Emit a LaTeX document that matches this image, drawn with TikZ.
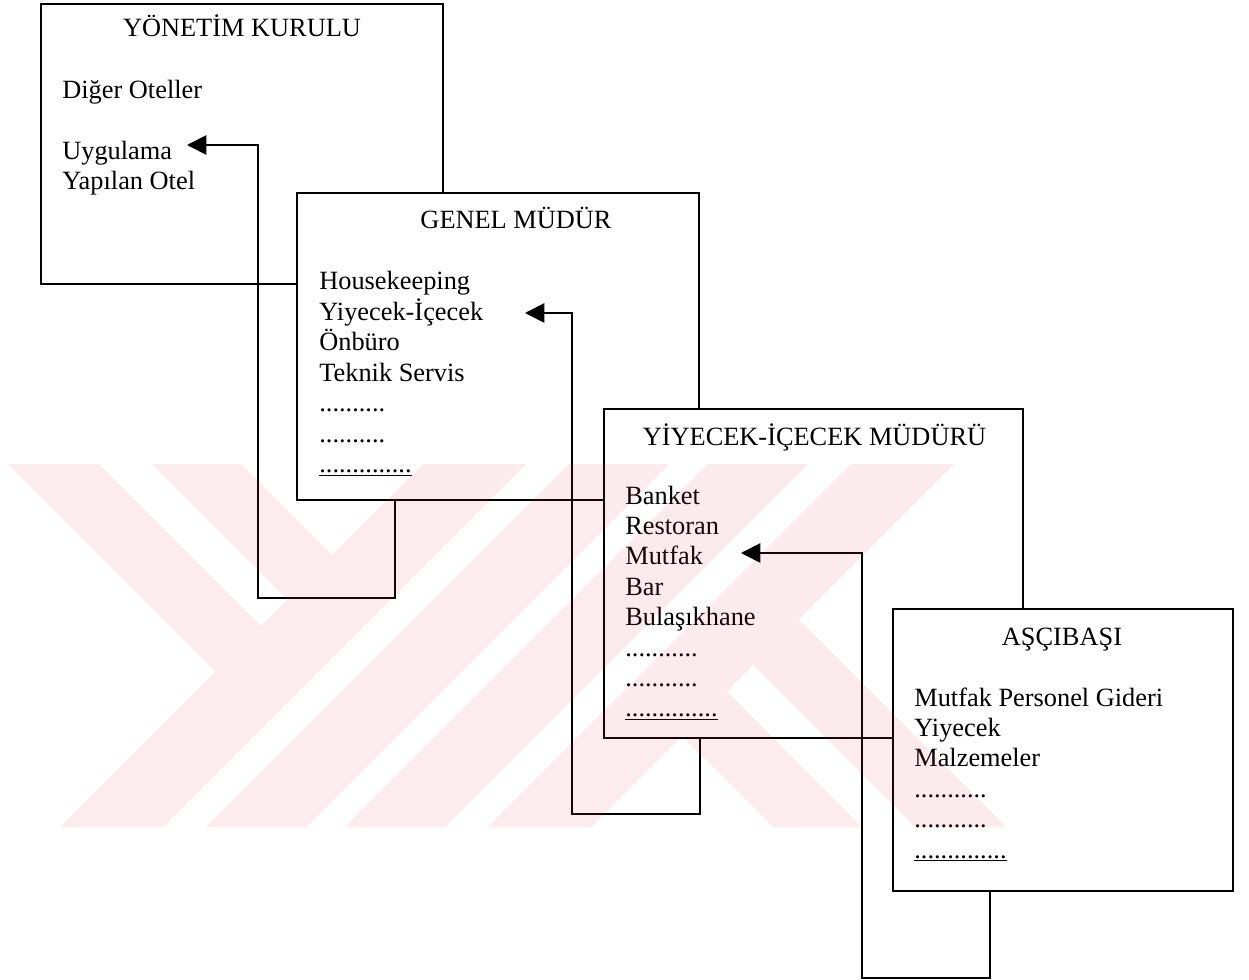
\documentclass[tikz,border=0pt]{standalone}
\usepackage{fontspec}
\setmainfont{Liberation Serif}
\usetikzlibrary{arrows.meta, calc}

\definecolor{yok_kirmizi}{RGB}{235,65,95}

% nokta satırları
\newcommand{\onnokta}{..........}
\newcommand{\onbirnokta}{...........}
\newcommand{\altcizgili}{\underline{..............}}

\begin{document}
\begin{tikzpicture}[
    x=0.02cm, y=-0.02cm,
    font=\fontsize{15}{17.3}\selectfont,
    kutu/.style={
        draw=black, line width=1pt,
        fill=white, inner sep=0pt, outer sep=0pt
    },
    baslik/.style={anchor=base, inner sep=0pt},
    kalem/.style={anchor=base west, inner sep=0pt},
    ok_cizgi/.style={
        -{Triangle[length=11pt, width=11pt]},
        black, line width=1pt
    },
    filigran/.style={fill=yok_kirmizi, fill opacity=0.1}
]

\useasboundingbox (0,0) rectangle (1249,980);

% ══════════════════════════════════════
%  KUTU 1 – Yönetim Kurulu
% ══════════════════════════════════════
\node[kutu, minimum width=8.04cm, minimum height=5.6cm] (yk) at (242,144) {};
\node[baslik] (yk_baslik) at (242,36.7) {YÖNETİM KURULU};
\foreach \t/\y [count=\i] in {Diğer Oteller/98.7, Uygulama/159.3, Yapılan Otel/189.6}
    \node[kalem] (yk_\i) at (62,\y) {\t};

% ══════════════════════════════════════
%  KUTU 2 – Genel Müdür
% ══════════════════════════════════════
\node[kutu, minimum width=8.04cm, minimum height=6.14cm] (gm) at (498,346.5) {};
\node[baslik] (gm_baslik) at (516,228.3) {GENEL MÜDÜR};
\foreach \t [count=\i] in {Housekeeping, Yiyecek-İçecek, Önbüro, Teknik Servis,
        \onnokta, \onnokta, \altcizgili}
    \node[kalem] (gm_\i) at (319,{290+30.4*(\i-1)}) {\t};

% ok 1: genel müdür -> uygulama yapılan otel
\coordinate (k1) at (258,598);
\coordinate (uc1) at (187,145);
\draw[ok_cizgi] ($(gm.south west)+(98,0)$) |- (k1) |- (uc1);

% ══════════════════════════════════════
%  KUTU 3 – Yiyecek-İçecek Müdürü
% ══════════════════════════════════════
\node[kutu, minimum width=8.38cm, minimum height=6.58cm] (yim) at (813.5,573.5) {};
\node[baslik] (yim_baslik) at (814.5,445) {YİYECEK-İÇECEK MÜDÜRÜ};
\foreach \t [count=\i] in {Banket, Restoran, Mutfak, Bar, Bulaşıkhane,
        \onbirnokta, \onbirnokta, \altcizgili}
    \node[kalem] (yim_\i) at (625,{504+30.4*(\i-1)}) {\t};

% ok 2: yiyecek-içecek müdürü -> genel müdür
\coordinate (k2) at (572,814);
\coordinate (uc2) at (525,313);
\draw[ok_cizgi] ($(yim.south west)+(96,0)$) |- (k2) |- (uc2);

% ══════════════════════════════════════
%  KUTU 4 – Aşçıbaşı
% ══════════════════════════════════════
\node[kutu, minimum width=6.8cm, minimum height=5.64cm] (asc) at (1063,750) {};
\node[baslik] (asc_baslik) at (1062,645) {AŞÇIBAŞI};
\foreach \t [count=\i] in {Mutfak Personel Gideri, Yiyecek, Malzemeler,
        \onbirnokta, \onbirnokta, \altcizgili}
    \node[kalem] (asc_\i) at (914,{706+30.4*(\i-1)}) {\t};

% ok 3: aşçıbaşı -> mutfak
\coordinate (k3) at (862,978);
\coordinate (uc3) at (741,553);
\draw[ok_cizgi] ($(asc.south west)+(97,0)$) |- (k3) |- (uc3);

%% ── Filigran ──────────────────────────────
\fill[filigran]
    (8,464) -- (99,464) -- (261,626) -- (215.5,671.5) -- cycle
    (152,464) -- (241,464) -- (332,555) -- (287.5,599.5) -- cycle
    (423,464) -- (526,464) -- (163,827) -- (60,827) -- cycle
    (569,464) -- (669,464) -- (306,827) -- (206,827) -- cycle
    (708,464) -- (808,464) -- (445,827) -- (345,827) -- cycle
    (851,464) -- (954,464) -- (591,827) -- (488,827) -- cycle
    (862,827) -- (773,827) -- (682,736) -- (726.5,691.5) -- cycle
    (1006,827) -- (915,827) -- (753,665) -- (798.5,619.5) -- cycle;

\end{tikzpicture}
\end{document}
